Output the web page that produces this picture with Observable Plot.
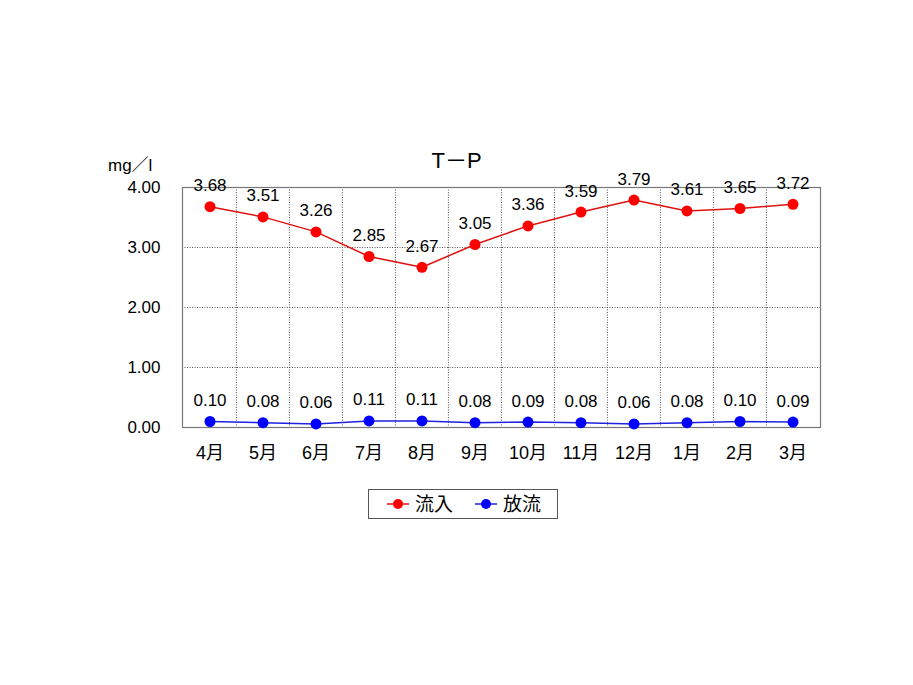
<!DOCTYPE html>
<html><head><meta charset="utf-8">
<script src="https://cdn.jsdelivr.net/npm/d3@7"></script>
<script src="https://cdn.jsdelivr.net/npm/@observablehq/plot@0.6"></script>
<style>
body{margin:0;background:#fff;font-family:"Liberation Sans","Noto Sans CJK JP",sans-serif;}
#wrap{position:relative;width:913px;height:685px;}
#title{position:absolute;left:0;width:913px;top:142px;text-align:center;font-size:22px;color:#000;}
#unit{position:absolute;left:108px;top:151px;font-size:17px;color:#000;}
#legend{position:absolute;left:368px;top:489px;width:190px;height:30px;border:1px solid #555;box-sizing:border-box;}
#chart{position:absolute;left:0;top:0;}
</style></head>
<body>
<div id="wrap">
<div id="chart"></div>
<div id="title">T－P</div>
<div id="unit">mg／l</div>
<div id="legend"></div>
</div>
<script>
const months = ["4月","5月","6月","7月","8月","9月","10月","11月","12月","1月","2月","3月"];
const inflow = [3.68,3.51,3.26,2.85,2.67,3.05,3.36,3.59,3.79,3.61,3.65,3.72];
const outflow = [0.10,0.08,0.06,0.11,0.11,0.08,0.09,0.08,0.06,0.08,0.10,0.09];
const yTicks = [0,1,2,3,4];
const seriesNames = ["流入","放流"];
const seriesColors = ["#ff0000","#0000ff"];
const lineColors = ["#e01010","#2020e0"];

const rows = [];
months.forEach((m,i)=>{
  rows.push({month:m, value:inflow[i], series:seriesNames[0]});
  rows.push({month:m, value:outflow[i], series:seriesNames[1]});
});

const W = 913, ML = 182, MR = 93;
const bw = (W - ML - MR) / months.length;
const font = "'Liberation Sans', 'Noto Sans CJK JP', sans-serif";

const chart = Plot.plot({
  width: W, height: 685,
  marginLeft: ML, marginRight: MR, marginTop: 187, marginBottom: 258,
  style: {fontFamily: font, fontSize: "17px", color: "#000", background: "transparent"},
  x: {type: "band", domain: months, padding: 0},
  y: {domain: [0, 4]},
  color: {domain: seriesNames, range: seriesColors},
  marks: [
    Plot.ruleX(months.slice(1), {x: d => d, dx: -bw / 2, stroke: "#555", strokeDasharray: "1,1.5", strokeWidth: 1}),
    Plot.ruleY([1,2,3], {stroke: "#555", strokeDasharray: "1,1.5", strokeWidth: 1}),
    Plot.frame({stroke: "#777", strokeWidth: 1.2}),
    Plot.axisY({ticks: yTicks, tickFormat: d3.format(".2f"), tickSize: 0, tickPadding: 22, fontSize: 17, label: null}),
    Plot.axisX({tickSize: 0, tickPadding: 19, fontSize: 18, label: null}),
    Plot.line(rows.filter(d=>d.series===seriesNames[0]), {x: "month", y: "value", stroke: lineColors[0], strokeWidth: 1.5}),
    Plot.line(rows.filter(d=>d.series===seriesNames[1]), {x: "month", y: "value", stroke: lineColors[1], strokeWidth: 1.5}),
    Plot.dot(rows, {x: "month", y: "value", fill: "series", r: 5.5, stroke: "none"}),
    Plot.text(rows, {x: "month", y: "value", text: d => d3.format(".2f")(d.value), dy: -21, fontSize: 17, fill: "#000"})
  ]
});
document.getElementById("chart").appendChild(chart);

// legend
const lg = d3.select("#legend").append("svg").attr("width",188).attr("height",28);
const itemX = [18, 106];
seriesNames.forEach((name,i)=>{
  const x0 = itemX[i];
  lg.append("line").attr("x1",x0).attr("x2",x0+22).attr("y1",14).attr("y2",14).attr("stroke",lineColors[i]).attr("stroke-width",1.5);
  lg.append("circle").attr("cx",x0+11).attr("cy",14).attr("r",5).attr("fill",seriesColors[i]);
  lg.append("text").attr("x",x0+28).attr("y",21).attr("font-size",19).attr("font-family",font).text(name);
});
</script>
</body></html>
